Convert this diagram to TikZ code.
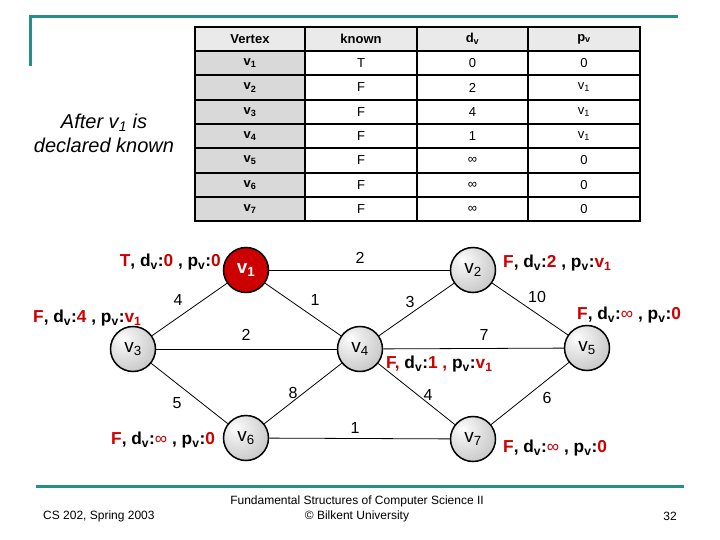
\documentclass[tikz,border=0pt]{standalone}
\usepackage{fontspec}
\setmainfont{Liberation Sans}
\definecolor{tealline}{RGB}{38,143,140}
\definecolor{myred}{RGB}{204,0,0}
\definecolor{hdrgray}{RGB}{234,234,234}
\definecolor{colgray}{RGB}{217,217,217}
\newcommand\rd[1]{\textcolor{myred}{#1}}
\newcommand\sbs[1]{\textsubscript{#1}}
\pgfdeclareradialshading{gball}{\pgfpoint{-12bp}{12bp}}{color(0bp)=(white); color(8bp)=(gray!12); color(40bp)=(gray!50); color(62bp)=(gray!68); color(80bp)=(gray!68)}
\begin{document}
\begin{tikzpicture}[x=1pt,y=-1pt,
  vtx/.style={circle, draw=black, line width=1.5pt, minimum size=45pt, inner sep=0pt, font=\fontsize{19}{21}\selectfont, shading=gball},
  startv/.style={circle, draw=black, line width=1.5pt, minimum size=45pt, inner sep=0pt, font=\fontsize{19}{21}\selectfont\bfseries, fill=myred, text=white},
  edg/.style={line width=0.8pt, black},
  wlbl/.style={font=\fontsize{16}{18}\selectfont, inner sep=1pt},
  annot/.style={font=\fontsize{17.3}{19}\selectfont\bfseries, inner sep=0pt},
  hcell/.style={font=\fontsize{13}{15}\selectfont\bfseries, inner sep=0pt},
  dcell/.style={font=\fontsize{13}{15}\selectfont, inner sep=0pt},
  foot/.style={font=\fontsize{12}{15}\selectfont, inner sep=0pt},
  tline/.style={tealline, line width=3pt}
]
\useasboundingbox (0,0) rectangle (720,540);
\fill[white] (0,0) rectangle (720,540);

% teal decorations
\draw[tline] (30,66) -- (30,17) -- (678,17);
\draw[tline] (36,486) -- (684,486);

% table fills
\fill[hdrgray] (195,27) rectangle (640,51);
\fill[colgray] (195,51) rectangle (305,221);
% table lines
\foreach \yy in {75,100,124,148,173,197} \draw[line width=1.8pt] (195,\yy) -- (640,\yy);
\draw[line width=2.4pt] (195,51) -- (640,51);
\draw[line width=2.4pt] (305,27) -- (305,221);
\draw[line width=1.8pt] (417,27) -- (417,221);
\draw[line width=1.8pt] (528,27) -- (528,221);
\draw[line width=2.6pt] (195,27) rectangle (640,221);

% table texts
\node[hcell] (h1) at (250,39) {Vertex};
\node[hcell] (h2) at (361,39) {known};
\node[hcell] (h3) at (472.5,39) {d\sbs{v}};
\node[hcell] (h4) at (584,39) {p\sbs{v}};
\foreach \i/\yy/\kn/\dv/\pv in {1/63/T/0/0, 2/87.5/F/2/v\sbs{1}, 3/112/F/4/v\sbs{1}, 4/136/F/1/v\sbs{1}, 5/160.5/F/∞/0, 6/185/F/∞/0, 7/209/F/∞/0}{
  \node[hcell] (c1r\i) at (250,\yy) {v\sbs{\i}};
  \node[dcell] (c2r\i) at (361,\yy) {\kn};
  \node[dcell] (c3r\i) at (472.5,\yy) {\dv};
  \node[dcell] (c4r\i) at (584,\yy) {\pv};
}

% caption
\node[font=\fontsize{20}{24}\selectfont\itshape, align=center] (cap) at (104,133) {After v\sbs{1} is\\declared known};

% vertices
\node[startv] (v1) at (246,270) {v\sbs{1}};
\node[vtx] (v2) at (473,270) {v\sbs{2}};
\node[vtx] (v3) at (133,349) {v\sbs{3}};
\node[vtx] (v4) at (360,349) {v\sbs{4}};
\node[vtx] (v5) at (587,348) {v\sbs{5}};
\node[vtx] (v6) at (246,438) {v\sbs{6}};
\node[vtx] (v7) at (473,439) {v\sbs{7}};

% edges
\draw[edg] (v1) -- (v2);
\draw[edg] (v1) -- (v3);
\draw[edg] (v1) -- (v4);
\draw[edg] (v2) -- (v4);
\draw[edg] (v2) -- (v5);
\draw[edg] (v3) -- (v4);
\draw[edg] (v4) -- (v5);
\draw[edg] (v3) -- (v6);
\draw[edg] (v4) -- (v6);
\draw[edg] (v4) -- (v7);
\draw[edg] (v5) -- (v7);
\draw[edg] (v6) -- (v7);

% edge weights
\node[wlbl] (w12) at (360,258) {2};
\node[wlbl] (w13) at (178,300) {4};
\node[wlbl] (w14) at (315,300) {1};
\node[wlbl] (w24) at (410,302) {3};
\node[wlbl] (w25) at (537,297) {10};
\node[wlbl] (w34) at (246,335) {2};
\node[wlbl] (w45) at (484,335) {7};
\node[wlbl] (w36) at (177,403) {5};
\node[wlbl] (w46) at (293,393) {8};
\node[wlbl] (w47) at (428,395) {4};
\node[wlbl] (w57) at (547,398) {6};
\node[wlbl] (w67) at (355,428) {1};

% annotations
\node[annot, anchor=east] (a1) at (221,262) {\rd{T}, d\sbs{v}:\rd{0} , p\sbs{v}:\rd{0}};
\node[annot, anchor=west] (a3) at (33,318) {\rd{F}, d\sbs{v}:\rd{4} , p\sbs{v}:\rd{v\sbs{1}}};
\node[annot, anchor=west] (a6) at (111,440) {\rd{F}, d\sbs{v}:\rd{\mdseries∞} , p\sbs{v}:\rd{0}};
\node[annot, anchor=west] (a2) at (503,263) {\rd{F}, d\sbs{v}:\rd{2} , p\sbs{v}:\rd{v\sbs{1}}};
\node[annot, anchor=west] (a5) at (577,315) {\rd{F}, d\sbs{v}:\rd{\mdseries∞} , p\sbs{v}:\rd{0}};
\node[annot, anchor=west] (a4) at (386,364) {\rd{F,} d\sbs{v}:\rd{1 ,} p\sbs{v}:\rd{v\sbs{1}}};
\node[annot, anchor=west] (a7) at (503,448) {\rd{F}, d\sbs{v}:\rd{\mdseries∞} , p\sbs{v}:\rd{0}};

% footer
\node[foot, anchor=west] (f1) at (43,516) {CS 202, Spring 2003};
\node[foot, align=center] (f2) at (357,509) {Fundamental Structures of Computer Science II\\© Bilkent University};
\node[foot, anchor=east] (f3) at (677,516) {32};
\end{tikzpicture}
\end{document}
